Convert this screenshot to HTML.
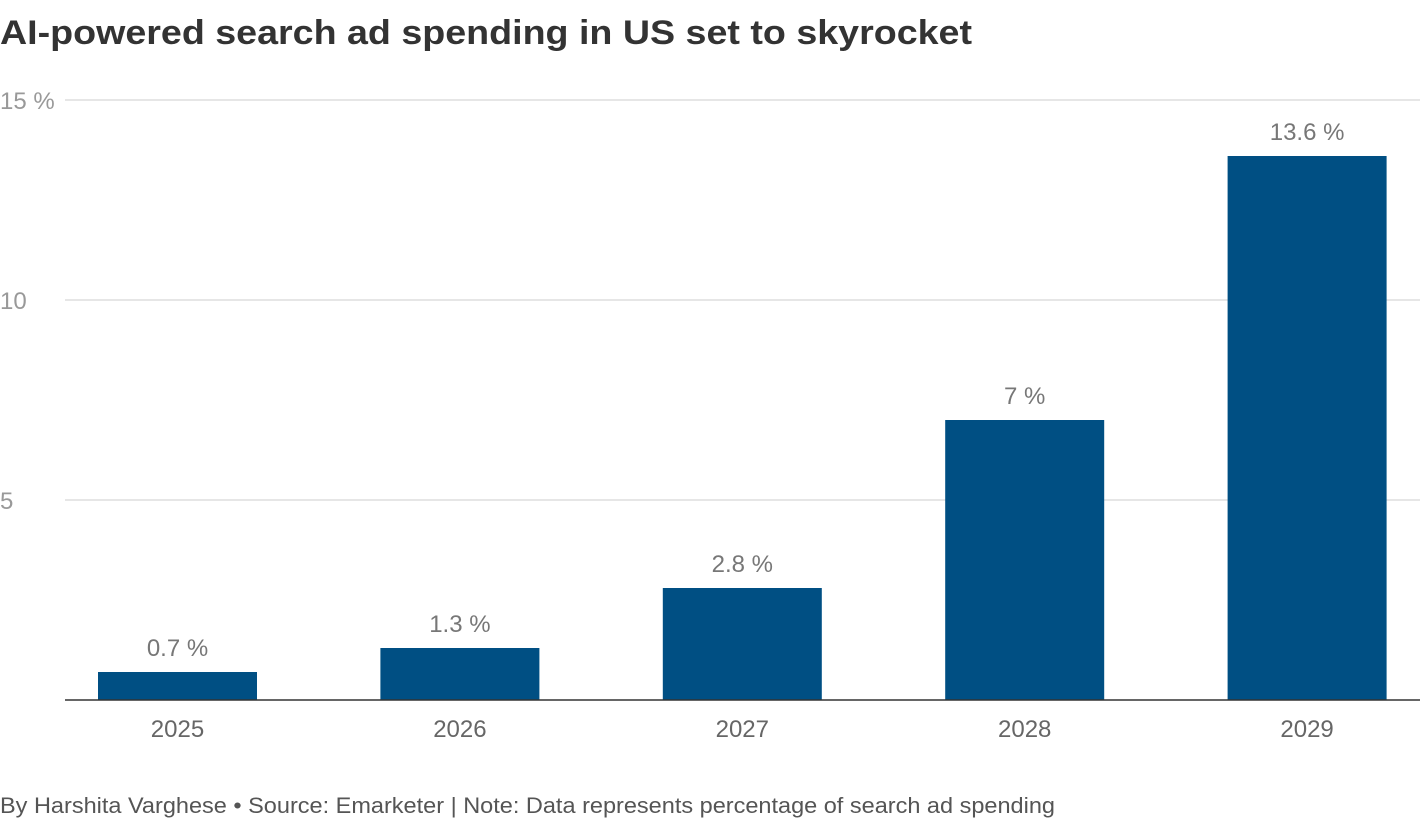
<!DOCTYPE html>
<html><head><meta charset="utf-8"><style>
body{margin:0;width:1420px;height:820px;background:#fff;overflow:hidden;font-family:"Liberation Sans",sans-serif}
</style></head><body>
<svg width="1420" height="820" xmlns="http://www.w3.org/2000/svg">
<text x="0" y="44" font-size="34" font-weight="bold" fill="#333" textLength="972" lengthAdjust="spacingAndGlyphs">AI-powered search ad spending in US set to skyrocket</text>
<g id="grid"></g><g id="bars"></g>
<text x="0" y="813" font-size="22" fill="#555" textLength="1055" lengthAdjust="spacingAndGlyphs">By Harshita Varghese • Source: Emarketer | Note: Data represents percentage of search ad spending</text>
</svg>
<script>
const categories=["2025","2026","2027","2028","2029"];
const values=[0.7,1.3,2.8,7,13.6];
const valueLabels=["0.7 %","1.3 %","2.8 %","7 %","13.6 %"];
const ticks=[5,10,15];
const tickLabels=["5","10","15 %"];
const NS="http://www.w3.org/2000/svg";
const y=v=>700-v*40;
const xc=i=>177.5+i*282.4;
const grid=document.getElementById('grid'),bars=document.getElementById('bars');
function mk(tag,attrs,parent,text){const e=document.createElementNS(NS,tag);for(const k in attrs)e.setAttribute(k,attrs[k]);if(text!==undefined)e.textContent=text;parent.appendChild(e);return e;}
ticks.forEach((t,i)=>{
 const l=mk('line',{x1:65,x2:1420,y1:y(t),y2:y(t),stroke:'#ccc','stroke-width':1},grid);
 
 
 const tx=mk('text',{x:0,y:y(t)+9,'font-size':24,fill:'#999'},grid,tickLabels[i]);
 
 
});
categories.forEach((c,i)=>{
 const r=mk('rect',{x:xc(i)-79.5,y:y(values[i]),width:159,height:700-y(values[i]),fill:'#004f83'},bars);
 
 
 const v=mk('text',{x:xc(i),y:y(values[i])-16,'font-size':24,fill:'#777','text-anchor':'middle'},bars,valueLabels[i]);
 
 
 const xl=mk('text',{x:xc(i),y:737,'font-size':24,fill:'#666','text-anchor':'middle'},bars,c);
 
 
});
const b=mk('line',{x1:65,x2:1420,y1:700,y2:700,stroke:'#333','stroke-width':1.5},bars);


</script>
</body></html>
